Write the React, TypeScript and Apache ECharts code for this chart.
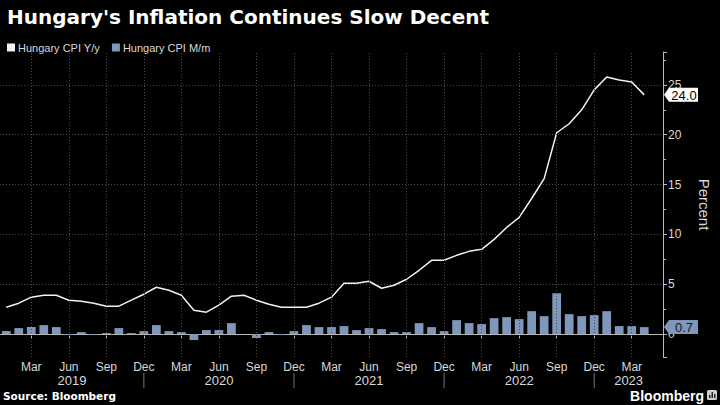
import React, { useEffect, useRef } from "react";
import * as echarts from "echarts";

const categories = [
  "Jan 2019", "Feb 2019", "Mar 2019", "Apr 2019", "May 2019", "Jun 2019", "Jul 2019", "Aug 2019", "Sep 2019", "Oct 2019", "Nov 2019", "Dec 2019",
  "Jan 2020", "Feb 2020", "Mar 2020", "Apr 2020", "May 2020", "Jun 2020", "Jul 2020", "Aug 2020", "Sep 2020", "Oct 2020", "Nov 2020", "Dec 2020",
  "Jan 2021", "Feb 2021", "Mar 2021", "Apr 2021", "May 2021", "Jun 2021", "Jul 2021", "Aug 2021", "Sep 2021", "Oct 2021", "Nov 2021", "Dec 2021",
  "Jan 2022", "Feb 2022", "Mar 2022", "Apr 2022", "May 2022", "Jun 2022", "Jul 2022", "Aug 2022", "Sep 2022", "Oct 2022", "Nov 2022", "Dec 2022",
  "Jan 2023", "Feb 2023", "Mar 2023", "Apr 2023", "May 2023",
];

const cpiYoY = [
  2.7, 3.1, 3.7, 3.9, 3.9, 3.4, 3.3, 3.1, 2.8, 2.8, 3.4, 4.0,
  4.7, 4.4, 3.9, 2.4, 2.2, 2.9, 3.8, 3.9, 3.4, 3.0, 2.7, 2.7,
  2.7, 3.1, 3.7, 5.1, 5.1, 5.3, 4.6, 4.9, 5.5, 6.4, 7.4, 7.4,
  7.9, 8.3, 8.5, 9.5, 10.7, 11.7, 13.6, 15.6, 20.2, 21.1, 22.5, 24.5,
  25.8, 25.5, 25.3, 24.0,
];

const cpiMoM = [
  0.3, 0.6, 0.7, 0.9, 0.7, -0.1, 0.2, -0.1, 0.1, 0.6, 0.1, 0.3,
  0.9, 0.3, 0.2, -0.6, 0.4, 0.4, 1.1, 0.0, -0.4, 0.2, -0.1, 0.3,
  0.9, 0.7, 0.7, 0.8, 0.4, 0.6, 0.5, 0.2, 0.2, 1.1, 0.7, 0.3,
  1.4, 1.1, 1.0, 1.6, 1.7, 1.5, 2.3, 1.8, 4.1, 2.0, 1.8, 1.9,
  2.3, 0.8, 0.8, 0.7,
];

const quarterMonths = ["Mar", "Jun", "Sep", "Dec"];
const yearSeparators = ["Dec 2019", "Dec 2020", "Dec 2021", "Dec 2022"];
const yearLabels = ["2019", "2020", "2021", "2022", "2023"];

const lastYoY = "24.0";
const lastMoM = "0.7";

const TITLE = "Hungary's Inflation Continues Slow Decent";
const SERIES_YOY = "Hungary CPI Y/y";
const SERIES_MOM = "Hungary CPI M/m";

const BAR_COLOR = "#7f97ba";
const LINE_COLOR = "#f2f2f2";
const AXIS_COLOR = "#b8b8b8";
const GRID_COLOR = "#4a4a4a";
const TEXT_COLOR = "#d8d8d8";
const FONT = "'Liberation Sans', Arial, sans-serif";
const BOLD_FONT = "'DejaVu Sans', sans-serif";

const isQuarter = (i: number) => quarterMonths.includes(categories[i].slice(0, 3));

export default function App() {
  const ref = useRef<HTMLDivElement>(null);

  useEffect(() => {
    if (!ref.current) return;
    const chart = echarts.init(ref.current, null, { renderer: "svg" });

    const option: any = {
      animation: false,
      backgroundColor: "#000000",
      title: {
        text: TITLE,
        left: 2,
        top: 2,
        textStyle: { color: "#ffffff", fontSize: 20, fontWeight: "bold", fontFamily: BOLD_FONT },
      },
      legend: {
        left: 2,
        top: 37,
        icon: "rect",
        itemWidth: 8,
        itemHeight: 8,
        itemGap: 12,
        textStyle: { color: TEXT_COLOR, fontSize: 11, fontFamily: FONT, padding: [0, 0, 0, -2] },
        data: [SERIES_YOY, SERIES_MOM],
      },
      grid: { left: -1, right: 52, top: 52, bottom: 48, containLabel: false },
      xAxis: {
        type: "category",
        data: categories,
        boundaryGap: true,
        axisLine: { show: true, lineStyle: { color: AXIS_COLOR, width: 1 } },
        axisTick: {
          show: true,
          alignWithLabel: true,
          interval: (i: number) => isQuarter(i),
          length: 4,
          lineStyle: { color: AXIS_COLOR },
        },
        axisLabel: {
          interval: (i: number) => isQuarter(i),
          formatter: (v: string) => v.slice(0, 3),
          color: TEXT_COLOR,
          fontSize: 12,
          fontFamily: FONT,
          margin: 4,
        },
        splitLine: { show: false },
      },
      yAxis: {
        type: "value",
        position: "right",
        min: -2.3,
        max: 28.3,
        splitNumber: 6,
        axisLine: { show: true, lineStyle: { color: AXIS_COLOR, width: 1 } },
        axisTick: { show: true, length: 4, lineStyle: { color: AXIS_COLOR } },
        minorTick: { show: true, splitNumber: 2, length: 3, lineStyle: { color: AXIS_COLOR } },
        axisLabel: {
          color: TEXT_COLOR,
          fontSize: 12,
          fontFamily: FONT,
          margin: 5,
          showMinLabel: false,
          showMaxLabel: false,
        },
        splitLine: {
          show: true,
          showMinLine: false,
          showMaxLine: false,
          lineStyle: { color: GRID_COLOR, type: [1, 2], width: 1 },
        },
        name: "Percent",
        nameLocation: "middle",
        nameRotate: -90,
        nameGap: 34,
        nameTextStyle: { color: TEXT_COLOR, fontSize: 15, fontFamily: FONT },
      },
      series: [
        {
          name: "grid-verticals",
          type: "line",
          data: [],
          z: 1,
          silent: true,
          markLine: {
            silent: true,
            symbol: ["none", "none"],
            label: { show: false },
            lineStyle: { color: GRID_COLOR, type: [1, 2], width: 1 },
            data: categories.filter((_, i) => isQuarter(i)).map((c) => ({ xAxis: c })),
          },
        },
        {
          name: SERIES_MOM,
          type: "bar",
          data: cpiMoM,
          z: 2,
          clip: false,
          barCategoryGap: "30%",
          itemStyle: { color: BAR_COLOR },
        },
        {
          name: SERIES_YOY,
          type: "line",
          data: cpiYoY,
          z: 3,
          symbol: "none",
          showSymbol: false,
          itemStyle: { color: LINE_COLOR },
          lineStyle: { color: LINE_COLOR, width: 1.5 },
        },
      ],
    };

    chart.setOption(option);

    const px = (c: string) => chart.convertToPixel({ xAxisIndex: 0 }, c) as number;
    const py = (v: number) => chart.convertToPixel({ yAxisIndex: 0 }, v) as number;
    const band = px(categories[1]) - px(categories[0]);
    const leftEdge = px(categories[0]) - band / 2;
    const rightEdge = px(categories[categories.length - 1]) + band / 2;
    const axisBottom = py(-2.3);

    const sepX = yearSeparators.map(px);
    const bounds = [Math.max(leftEdge, 0), ...sepX, rightEdge];

    const graphic: any[] = [];
    sepX.forEach((x) => {
      graphic.push({
        type: "line",
        shape: { x1: x, y1: axisBottom + 16, x2: x, y2: axisBottom + 31 },
        style: { stroke: "#777", lineWidth: 1 },
        silent: true,
      });
    });
    yearLabels.forEach((y, i) => {
      graphic.push({
        type: "text",
        x: (bounds[i] + bounds[i + 1]) / 2,
        y: axisBottom + 23,
        style: {
          text: y,
          fill: TEXT_COLOR,
          font: `13px ${FONT}`,
          align: "center",
          verticalAlign: "middle",
        },
        silent: true,
      });
    });

    const tag = (value: string, bg: string, fg: string) => {
      const yc = py(parseFloat(value));
      const x0 = rightEdge + 1;
      const h = 7;
      graphic.push({
        type: "polygon",
        shape: {
          points: [
            [x0, yc],
            [x0 + 5, yc - h],
            [x0 + 34, yc - h],
            [x0 + 34, yc + h],
            [x0 + 5, yc + h],
          ],
        },
        style: { fill: bg },
        z: 10,
        silent: true,
      });
      graphic.push({
        type: "text",
        x: x0 + 20,
        y: yc + 0.5,
        style: {
          text: value,
          fill: fg,
          font: `13px ${FONT}`,
          align: "center",
          verticalAlign: "middle",
        },
        z: 11,
        silent: true,
      });
    };
    tag(lastYoY, "#ffffff", "#000000");
    tag(lastMoM, BAR_COLOR, "#101a2a");

    graphic.push({
      type: "text",
      left: 3,
      top: 390,
      style: { text: "Source: Bloomberg", fill: "#ffffff", font: `bold 10.5px ${BOLD_FONT}` },
      silent: true,
    });
    graphic.push({
      type: "text",
      x: 704,
      y: 396,
      style: {
        text: "Bloomberg",
        fill: "#ffffff",
        font: `bold 14px ${FONT}`,
        align: "right",
        verticalAlign: "middle",
      },
      silent: true,
    });
    graphic.push({
      type: "rect",
      shape: { x: 707, y: 390, width: 10, height: 10, r: 1.5 },
      style: { fill: "#d0d0d0" },
      silent: true,
    });
    [
      [709, 395, 1.5, 3],
      [711.5, 392, 1.5, 6],
      [714, 394, 1.5, 4],
    ].forEach(([x, y, w, h]) => {
      graphic.push({
        type: "rect",
        shape: { x, y, width: w, height: h },
        style: { fill: "#222" },
        z: 2,
        silent: true,
      });
    });

    chart.setOption({ graphic });

    return () => {
      chart.dispose();
    };
  }, []);

  return (
    <div
      ref={ref}
      style={{ position: "fixed", left: 0, top: 0, width: 720, height: 405, background: "#000" }}
    />
  );
}
